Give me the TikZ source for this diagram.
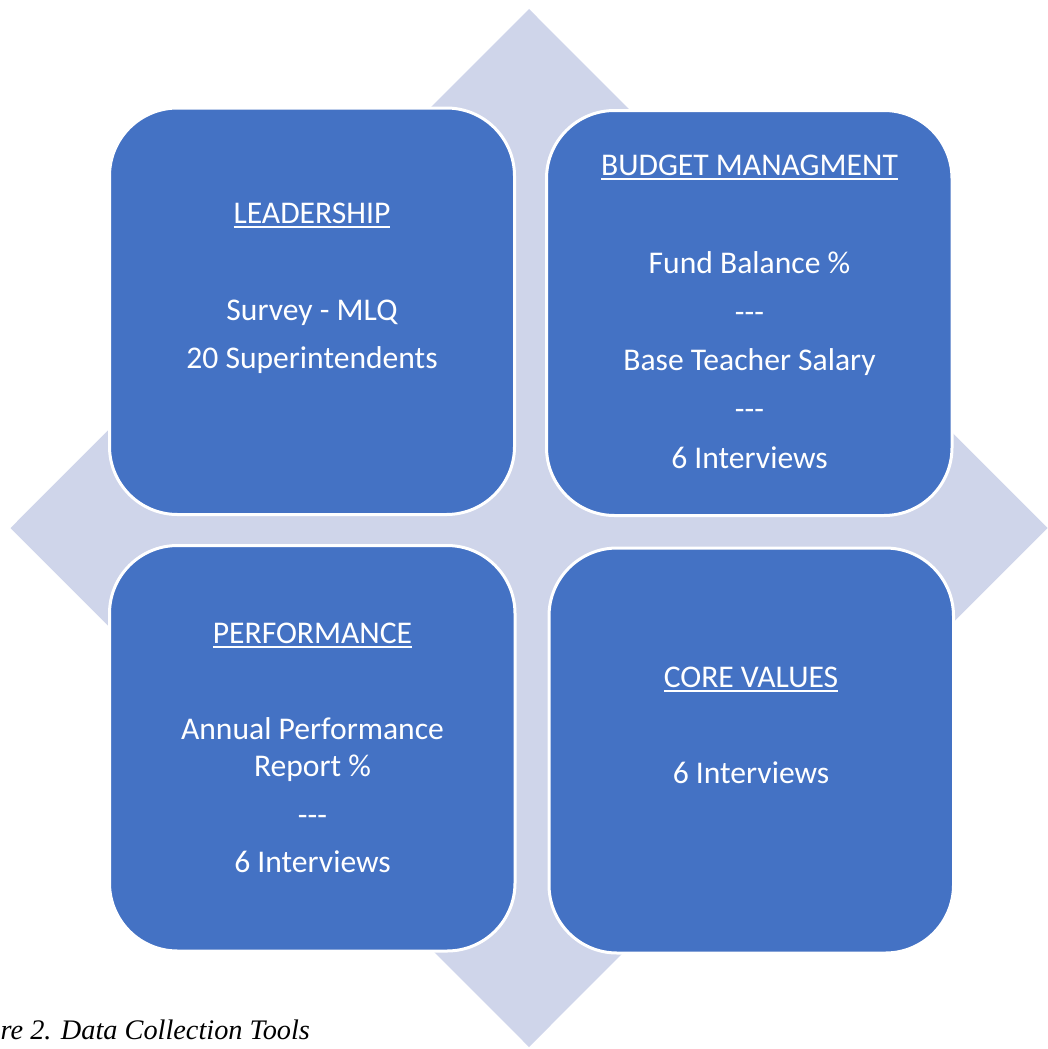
\documentclass[tikz,border=0pt]{standalone}
\usepackage{fontspec}
\newfontfamily\calib{Carlito}
\newfontfamily\capfont{Liberation Serif}
\definecolor{diamondfill}{HTML}{CFD5EA}
\definecolor{boxblue}{HTML}{4472C4}
\newcommand\ulin[1]{\setbox0\hbox{#1}\rlap{\rule[-5pt]{\wd0}{1.9pt}}\box0}
\newcommand\dashes{-\kern0pt-\kern0pt-}
\tikzset{
  bluebox/.style={draw=white, line width=3pt, fill=boxblue, rounded corners=68pt},
  txt/.style={text=white, font=\calib\fontsize{31.6}{37}\selectfont, inner sep=0pt, anchor=base},
}
\begin{document}
\begin{tikzpicture}[x=1pt,y=-1pt]
\useasboundingbox (0,0) rectangle (1047,1049);
% background diamond
\fill[diamondfill] (529,9) -- (1047.5,528) -- (529,1047) -- (10.5,528) -- cycle;
% boxes
\draw[bluebox] (109.5,108) rectangle (514.5,514.5);
\draw[bluebox] (546.5,110.5) rectangle (952,515.5);
\draw[bluebox] (109.5,545.5) rectangle (515,951);
\draw[bluebox] (549,548) rectangle (953.5,953);
% top-left
\node[txt] (t1) at (312,223) {\ulin{LEADERSHIP}};
\node[txt] (t2) at (312,320) {Survey - MLQ};
\node[txt] (t3) at (312,368) {20 Superintendents};
% top-right
\node[txt] (r1) at (749.5,175) {\ulin{BUDGET MANAGMENT}};
\node[txt] (r2) at (749.5,273) {Fund Balance \%};
\node[txt] (r3) at (749.5,322) {\dashes};
\node[txt] (r4) at (749.5,370) {Base Teacher Salary};
\node[txt] (r5) at (749.5,419) {\dashes};
\node[txt] (r6) at (749.5,468) {6 Interviews};
% bottom-left
\node[txt] (b1) at (312.5,643) {\ulin{PERFORMANCE}};
\node[txt] (b2) at (312.5,739) {Annual Performance};
\node[txt] (b3) at (312.5,776) {Report \%};
\node[txt] (b4) at (312.5,825) {\dashes};
\node[txt] (b5) at (312.5,872) {6 Interviews};
% bottom-right
\node[txt] (c1) at (751,687) {\ulin{CORE VALUES}};
\node[txt] (c2) at (751,783) {6 Interviews};
% caption
\node[anchor=base west, inner sep=0pt, font=\capfont\itshape\fontsize{28.3}{34}\selectfont] (cap) at (0.5,1039) {re 2. Data Collection Tools};
\end{tikzpicture}
\end{document}
